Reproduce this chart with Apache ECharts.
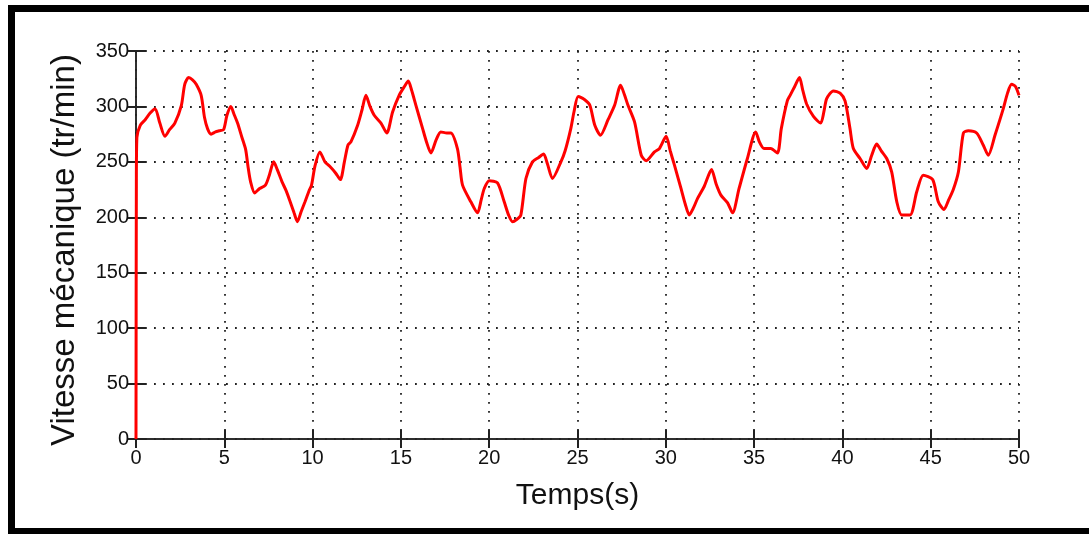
<!DOCTYPE html>
<html>
<head>
<meta charset="utf-8">
<script src="https://cdn.jsdelivr.net/npm/echarts@6/dist/echarts.min.js"></script>
<style>
  html, body { margin: 0; padding: 0; background: #fff; }
  #chart { position: absolute; left: 0; top: 0; width: 1089px; height: 534px; }
  #frame {
    position: absolute; left: 8px; top: 5px; width: 1120px; height: 529px;
    box-sizing: border-box; border: 7px solid #000; border-bottom-width: 6px;
    pointer-events: none;
  }
  body { width: 1089px; height: 534px; overflow: hidden; }
</style>
</head>
<body>
<div id="chart"></div>
<div id="frame"></div>
<script>
// temps (s) et vitesse mécanique (tr/min)
const times = [
  0, 0.02, 0.05, 0.24, 0.52, 0.8, 1.08, 1.35, 1.64, 1.9, 2.2, 2.57, 2.76, 2.98, 3.2, 3.41,
  3.69, 3.88, 4.05, 4.25, 4.5, 4.72, 4.96, 5.15, 5.37, 5.55, 5.75, 6.0, 6.21, 6.35, 6.49,
  6.72, 7.0, 7.33, 7.55, 7.8, 8.0, 8.27, 8.5, 8.73, 8.95, 9.14, 9.35, 9.57, 9.8, 9.94,
  10.13, 10.41, 10.7, 10.97, 11.3, 11.57, 11.8, 12.0, 12.17, 12.55, 12.8, 13.02, 13.25,
  13.49, 13.87, 14.2, 14.53, 14.9, 15.2, 15.42, 15.6, 15.85, 16.23, 16.45, 16.7, 17.0,
  17.26, 17.6, 17.83, 18.2, 18.35, 18.49, 18.96, 19.34, 19.55, 19.72, 20.0, 20.47, 20.85,
  21.1, 21.32, 21.55, 21.79, 22.08, 22.45, 22.8, 23.08, 23.3, 23.58, 24.06, 24.3, 24.62,
  24.8, 25.04, 25.41, 25.7, 25.98, 26.3, 26.73, 27.1, 27.44, 27.65, 27.86, 28.23, 28.61,
  28.89, 29.36, 29.64, 30.02, 30.25, 30.49, 30.86, 31.1, 31.33, 31.55, 31.8, 32.18, 32.59,
  32.85, 33.12, 33.5, 33.78, 34.15, 34.62, 35.09, 35.3, 35.56, 35.94, 36.32, 36.54, 36.88,
  37.04, 37.3, 37.57, 37.75, 37.98, 38.36, 38.77, 38.95, 39.11, 39.49, 39.87, 40.15, 40.43,
  40.62, 41.0, 41.38, 41.66, 41.94, 42.2, 42.51, 42.79, 43.08, 43.36, 43.83, 44.21, 44.58,
  45.11, 45.43, 45.75, 46.0, 46.28, 46.57, 46.85, 47.13, 47.6, 47.98, 48.26, 48.64, 49.11,
  49.35, 49.58, 49.8, 50
]
const speeds = [
  0, 230, 272, 283, 288, 294, 298, 285, 273, 279, 285, 301, 320, 326, 324, 320,
  310, 290, 280, 275, 277, 278, 279, 292, 300, 293, 285, 272, 261, 245, 232,
  222, 226, 229, 238, 250, 243, 232, 224, 214, 204, 196, 205, 214, 224, 229,
  246, 259, 250, 246, 240, 234, 250, 265, 268, 283, 297, 310, 300,
  292, 285, 276, 295, 310, 318, 323, 315, 301, 280, 268, 258, 270,
  277, 276, 276, 262, 245, 229, 214, 204, 216, 226, 233, 231, 214,
  202, 196, 198, 202, 235, 250, 254, 257, 248, 235, 250, 260, 280,
  295, 309, 306, 301, 283, 274, 288, 301, 319, 311, 301, 286, 256,
  251, 259, 262, 273, 260, 247, 226, 212, 202, 208, 217, 228, 243,
  230, 220, 213, 204, 226, 253, 277, 268, 262, 262, 258, 280, 305,
  310, 318, 326, 315, 302, 291, 285, 295, 307, 314, 312, 305, 280,
  262, 253, 244, 256, 266, 260, 253, 241, 214, 202, 202, 223, 238,
  234, 214, 207, 215, 225, 241, 276, 278, 276, 265, 256, 274, 298,
  312, 320, 318, 310
]
const xTicks = { min: 0, max: 50, interval: 5 }
const yTicks = { min: 0, max: 350, interval: 50 }

const chart = echarts.init(document.getElementById('chart'), null, { renderer: 'canvas' })

const points = times.map((t, i) => [t, speeds[i]])

const axisFont = { fontFamily: 'Liberation Sans, Arial, sans-serif', fontSize: 20, color: '#111' }
const axisLine = { show: true, lineStyle: { color: '#222', width: 1.5 } }
const tick = { show: true, inside: true, length: 9, lineStyle: { color: '#222', width: 2 } }
const gridDots = { show: true, lineStyle: { color: '#222', width: 1.8, type: [1.8, 7.2] } }

const option = {
  animation: false,
  backgroundColor: 'transparent',
  grid: { left: 136, top: 51, right: 70, bottom: 95 },
  xAxis: [
    {
      type: 'value',
      min: xTicks.min, max: xTicks.max, interval: xTicks.interval,
      position: 'bottom',
      name: 'Temps(s)',
      nameLocation: 'middle',
      nameGap: 42,
      nameTextStyle: { fontFamily: 'Liberation Sans, Arial, sans-serif', fontSize: 30, color: '#111' },
      axisLine: axisLine,
      axisTick: tick,
      axisLabel: Object.assign({ margin: 9 }, axisFont),
      splitLine: gridDots
    },
    {
      type: 'value',
      min: xTicks.min, max: xTicks.max, interval: xTicks.interval,
      position: 'top',
      axisLine: axisLine,
      axisTick: tick,
      axisLabel: { show: false },
      splitLine: { show: false }
    }
  ],
  yAxis: [
    {
      type: 'value',
      min: yTicks.min, max: yTicks.max, interval: yTicks.interval,
      position: 'left',
      name: 'Vitesse mécanique (tr/min)',
      nameLocation: 'middle',
      nameGap: 55,
      nameTextStyle: { fontFamily: 'Liberation Sans, Arial, sans-serif', fontSize: 33, color: '#111', padding: [0, 10, 0, 0] },
      axisLine: axisLine,
      axisTick: tick,
      axisLabel: Object.assign({ margin: 7 }, axisFont),
      splitLine: gridDots
    },
    {
      type: 'value',
      min: yTicks.min, max: yTicks.max, interval: yTicks.interval,
      position: 'right',
      axisLine: axisLine,
      axisTick: tick,
      axisLabel: { show: false },
      splitLine: { show: false }
    }
  ],
  series: [
    {
      type: 'line',
      data: points,
      xAxisIndex: 0,
      yAxisIndex: 0,
      showSymbol: false,
      smooth: 0.25,
      lineStyle: { color: '#ff0000', width: 3 },
      z: 5
    }
  ]
}

chart.setOption(option)
</script>
</body>
</html>
